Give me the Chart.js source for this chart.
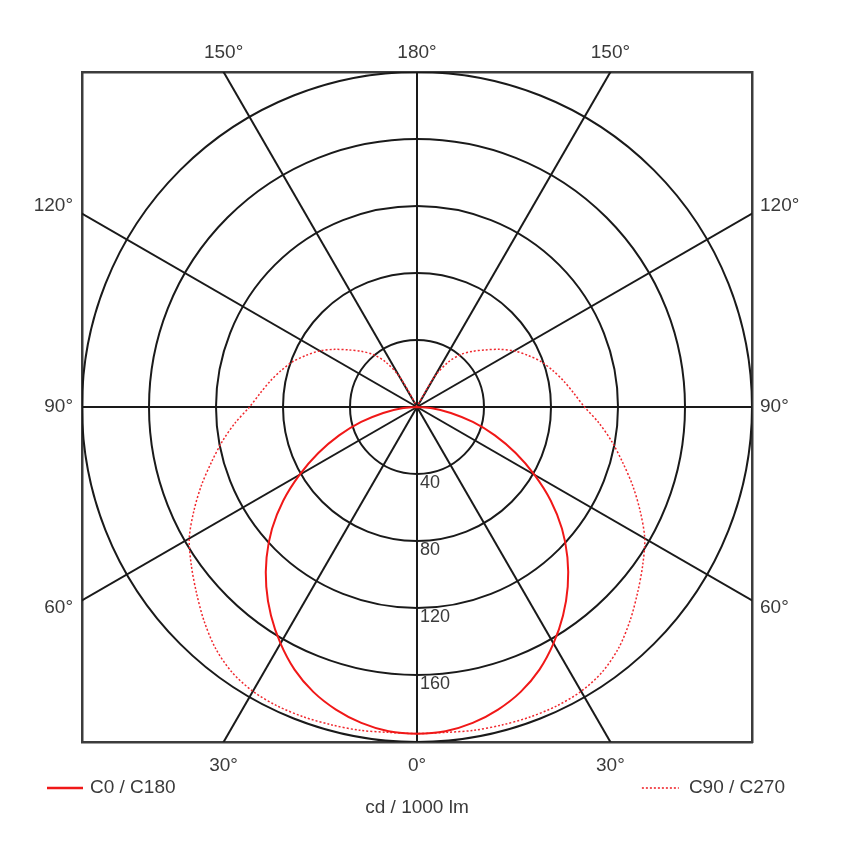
<!DOCTYPE html>
<html>
<head>
<meta charset="utf-8">
<script src="https://cdn.jsdelivr.net/npm/chart.js@4/dist/chart.umd.min.js"></script>
<style>
  html, body { margin: 0; padding: 0; background: #fff; }
  #wrap { width: 847px; height: 850px; }
</style>
</head>
<body>
<div id="wrap"><canvas id="c" width="847" height="850"></canvas></div>
<script>
// ---- data ----
const gammaC0 = [0,5,10,15,20,25,30,35,40,45,50,55,60,65,70,75,80,85,90];
const c0c180 = [195,194.3,191.5,187,181,173,163,152,140,127,113,97.5,81,65,49.5,34.5,20.5,9,0];
const gammaC90 = [0,5,10,15,20,25,30,35,40,45,50,55,60,65,70,75,80,85,90,95,100,105,110,115,120,125,130,135,140,145,150,155,160];
const c90c270 = [195,195,196,196.5,197,197,196,193,187.5,180,172,164.5,157,147,137,127,118,109,100,94,89,84,79,73,67,60,53,47,41,33,21,2,0];
const ringValues = [40, 80, 120, 160, 200];
const ringLabels = ['40', '80', '120', '160', ''];
const spokeAngles = [0,30,60,90,120,150,180,210,240,270,300,330];
const bottomLabels = ['30°', '0°', '30°'];
const topLabels = ['150°', '180°', '150°'];
const sideLabels = ['60°', '90°', '120°'];
const unitLabel = 'cd / 1000 lm';
const seriesNames = ['C0 / C180', 'C90 / C270'];
const rMax = 200;

// ---- helpers ----
const rad = d => d * Math.PI / 180;
function polarPath(gammas, values) {
  const pts = [];
  for (let i = gammas.length - 1; i >= 0; i--) {
    pts.push({ x: -values[i] * Math.sin(rad(gammas[i])), y: -values[i] * Math.cos(rad(gammas[i])) });
  }
  for (let i = 1; i < gammas.length; i++) {
    pts.push({ x: values[i] * Math.sin(rad(gammas[i])), y: -values[i] * Math.cos(rad(gammas[i])) });
  }
  return pts;
}
const edge = rMax * Math.tan(rad(30));
const FAM = '"Liberation Sans", Arial, Helvetica, sans-serif';
const FONT = { family: FAM, size: 19 };
const TXT = '#3a3a3a';

function setTicks(list) {
  return scale => { scale.ticks = list.map(t => ({ value: t.v, txt: t.t })); };
}
const tickCb = function (value, index, ticks) { return ticks[index].txt; };

const polarGrid = {
  id: 'polarGrid',
  beforeDatasetsDraw(chart) {
    const { ctx, chartArea: a, scales: { x, y } } = chart;
    const cx = x.getPixelForValue(0), cy = y.getPixelForValue(0);
    ctx.save();
    ctx.beginPath();
    ctx.rect(a.left, a.top, a.right - a.left, a.bottom - a.top);
    ctx.clip();
    ctx.strokeStyle = '#1a1a1a';
    ctx.lineWidth = 2;
    ringValues.forEach(v => {
      const r = x.getPixelForValue(v) - cx;
      ctx.beginPath();
      ctx.arc(cx, cy, r, 0, Math.PI * 2);
      ctx.stroke();
    });
    spokeAngles.forEach(g => {
      const ex = x.getPixelForValue(1000 * Math.sin(rad(g)));
      const ey = y.getPixelForValue(-1000 * Math.cos(rad(g)));
      ctx.beginPath();
      ctx.moveTo(cx, cy);
      ctx.lineTo(ex, ey);
      ctx.stroke();
    });
    ctx.restore();
    ctx.save();
    ctx.font = '18px ' + FAM;
    ctx.fillStyle = TXT;
    ctx.textAlign = 'left';
    ctx.textBaseline = 'middle';
    ringValues.forEach((v, i) => {
      if (!ringLabels[i]) return;
      ctx.fillText(ringLabels[i], cx + 3, y.getPixelForValue(-v) + 9);
    });
    ctx.restore();
  },
  afterDraw(chart) {
    const { ctx, chartArea: a } = chart;
    const ds = chart.data.datasets;
    const ly = 788;
    ctx.save();
    ctx.font = '19px ' + FAM;
    ctx.textBaseline = 'middle';
    ctx.fillStyle = TXT;
    // left item
    ctx.strokeStyle = ds[0].borderColor;
    ctx.lineWidth = 2.5;
    ctx.setLineDash(ds[0].borderDash || []);
    ctx.beginPath(); ctx.moveTo(a.left - 35, ly); ctx.lineTo(a.left + 1, ly); ctx.stroke();
    ctx.textAlign = 'left';
    ctx.fillText(ds[0].label, a.left + 8, ly);
    // right item
    const tr = a.right + 33;
    const w = ctx.measureText(ds[1].label).width;
    ctx.strokeStyle = ds[1].borderColor;
    ctx.lineWidth = 1.6;
    ctx.setLineDash(ds[1].borderDash || []);
    ctx.beginPath(); ctx.moveTo(tr - w - 47, ly); ctx.lineTo(tr - w - 10, ly); ctx.stroke();
    ctx.setLineDash([]);
    ctx.textAlign = 'right';
    ctx.fillText(ds[1].label, tr, ly);
    ctx.restore();
  }
};

const axisBase = {
  type: 'linear', min: -rMax, max: rMax,
  grid: { display: false, drawTicks: false },
  border: { display: true, color: '#3c3c3c', width: 2.5 }
};

new Chart(document.getElementById('c'), {
  type: 'scatter',
  data: {
    datasets: [
      { label: seriesNames[0], data: polarPath(gammaC0, c0c180), showLine: true,
        borderColor: '#f01818', borderWidth: 2, pointRadius: 0, tension: 0.3, fill: false },
      { label: seriesNames[1], data: polarPath(gammaC90, c90c270), showLine: true,
        borderColor: '#f0282e', borderWidth: 1.5, borderDash: [2, 2], pointRadius: 0, tension: 0.3, fill: false }
    ]
  },
  options: {
    responsive: false,
    devicePixelRatio: 1,
    animation: false,
    layout: { padding: 0 },
    plugins: { legend: { display: false }, tooltip: { enabled: false } },
    scales: {
      x: Object.assign({}, axisBase, {
        position: 'bottom',
        afterBuildTicks: setTicks([{ v: -edge, t: bottomLabels[0] }, { v: 0, t: bottomLabels[1] }, { v: edge, t: bottomLabels[2] }]),
        afterFit: s => { s.height = 108; },
        ticks: { font: FONT, color: TXT, padding: 12, maxRotation: 0, autoSkip: false, callback: tickCb },
        title: { display: true, text: unitLabel, font: FONT, color: TXT, padding: { top: 0, bottom: 31 } }
      }),
      x2: Object.assign({}, axisBase, {
        position: 'top',
        afterBuildTicks: setTicks([{ v: -edge, t: topLabels[0] }, { v: 0, t: topLabels[1] }, { v: edge, t: topLabels[2] }]),
        afterFit: s => { s.height = 72; },
        ticks: { font: FONT, color: TXT, padding: 8, maxRotation: 0, autoSkip: false, callback: tickCb }
      }),
      y: Object.assign({}, axisBase, {
        position: 'left',
        afterBuildTicks: setTicks([{ v: -edge * 1.04, t: sideLabels[0] }, { v: 0, t: sideLabels[1] }, { v: edge * 1.04, t: sideLabels[2] }]),
        afterFit: s => { s.width = 82; },
        ticks: { font: FONT, color: TXT, padding: 9, autoSkip: false, callback: tickCb }
      }),
      y2: Object.assign({}, axisBase, {
        position: 'right',
        afterBuildTicks: setTicks([{ v: -edge * 1.04, t: sideLabels[0] }, { v: 0, t: sideLabels[1] }, { v: edge * 1.04, t: sideLabels[2] }]),
        afterFit: s => { s.width = 95; },
        ticks: { font: FONT, color: TXT, padding: 8, autoSkip: false, callback: tickCb }
      })
    }
  },
  plugins: [polarGrid]
});
</script>
</body>
</html>
